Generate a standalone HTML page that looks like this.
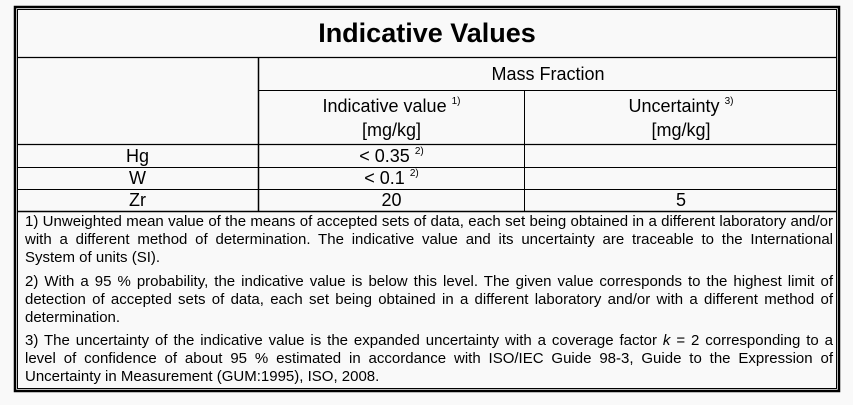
<!DOCTYPE html>
<html><head><meta charset="utf-8"><style>
body{margin:0;width:853px;height:405px;background:#f9f9f9;position:relative;overflow:hidden;font-family:"Liberation Sans",Arial,sans-serif;color:#000}
.a{position:absolute;white-space:nowrap}
.c{text-align:center;font-size:18px;line-height:21px}
.n{position:absolute;left:25px;width:808px;font-size:15px;line-height:17.8px}
.n div{white-space:nowrap;text-align:justify;text-align-last:justify}
.n div.l{text-align-last:left}
sup{font-size:10px;vertical-align:0;position:relative;top:-8px}
</style></head><body>
<svg width="853" height="405" style="position:absolute;left:0;top:0">
<g stroke="#000" fill="none">
<rect x="15" y="7" width="824" height="384" stroke-width="2.5"/>
<rect x="17.5" y="9.5" width="819" height="379" stroke-width="1"/>
<line x1="17" y1="57.5" x2="837" y2="57.5" stroke-width="1.2"/>
<line x1="258.5" y1="57" x2="258.5" y2="211" stroke-width="1.5"/>
<line x1="258" y1="90.5" x2="837" y2="90.5" stroke-width="1"/>
<line x1="524.5" y1="90" x2="524.5" y2="211" stroke-width="1"/>
<line x1="17" y1="144.5" x2="837" y2="144.5" stroke-width="1.2"/>
<line x1="17" y1="167.5" x2="837" y2="167.5" stroke-width="1"/>
<line x1="17" y1="189.5" x2="837" y2="189.5" stroke-width="1"/>
<line x1="17" y1="211.5" x2="837" y2="211.5" stroke-width="1.5"/>
</g></svg>
<div class="a" style="left:17px;width:820px;top:18px;font-size:27px;font-weight:bold;text-align:center">Indicative Values</div>
<div class="a c" style="left:259px;width:578px;top:64px">Mass Fraction</div>
<div class="a c" style="left:259px;width:265px;top:96px">Indicative value <sup>1)</sup><br>[mg/kg]</div>
<div class="a c" style="left:525px;width:312px;top:96px">Uncertainty <sup>3)</sup><br>[mg/kg]</div>
<div class="a c" style="left:17px;width:241px;top:146px">Hg</div>
<div class="a c" style="left:17px;width:241px;top:168px">W</div>
<div class="a c" style="left:17px;width:241px;top:190px">Zr</div>
<div class="a c" style="left:259px;width:265px;top:146px">&lt; 0.35 <sup>2)</sup></div>
<div class="a c" style="left:259px;width:265px;top:168px">&lt; 0.1 <sup>2)</sup></div>
<div class="a c" style="left:259px;width:265px;top:190px">20</div>
<div class="a c" style="left:525px;width:312px;top:190px">5</div>
<div class="n" style="top:213px"><div>1) Unweighted mean value of the means of accepted sets of data, each set being obtained in a different laboratory and/or</div><div>with a different method of determination. The indicative value and its uncertainty are traceable to the International</div><div class="l">System of units (SI).</div></div>
<div class="n" style="top:273px"><div>2) With a 95 % probability, the indicative value is below this level. The given value corresponds to the highest limit of</div><div>detection of accepted sets of data, each set being obtained in a different laboratory and/or with a different method of</div><div class="l">determination.</div></div>
<div class="n" style="top:332px"><div>3) The uncertainty of the indicative value is the expanded uncertainty with a coverage factor <i>k</i> = 2 corresponding to a</div><div>level of confidence of about 95 % estimated in accordance with ISO/IEC Guide 98-3, Guide to the Expression of</div><div class="l">Uncertainty in Measurement (GUM:1995), ISO, 2008.</div></div>
</body></html>
